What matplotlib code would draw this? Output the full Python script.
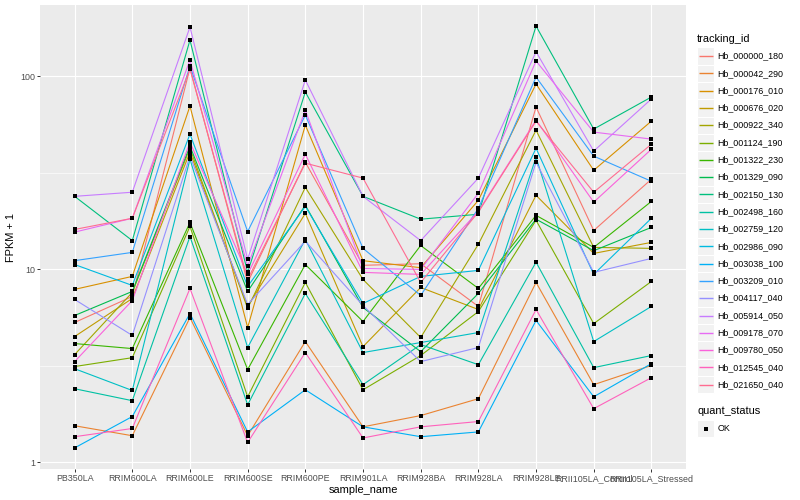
import matplotlib
matplotlib.use("Agg")
import matplotlib.pyplot as plt
from matplotlib.ticker import FixedLocator, NullFormatter
from matplotlib.patches import Rectangle
import numpy as np

plt.rcParams['font.family'] = ['Liberation Sans', 'DejaVu Sans']

samples = ["PB350LA", "RRIM600LA", "RRIM600LE", "RRIM600SE", "RRIM600PE",
           "RRIM901LA", "RRIM928BA", "RRIM928LA", "RRIM928LE",
           "RRII105LA_Control", "RRII105LA_Stressed"]

tracking_ids = ["Hb_000000_180", "Hb_000042_290", "Hb_000176_010", "Hb_000676_020",
                "Hb_000922_340", "Hb_001124_190", "Hb_001322_230", "Hb_001329_090",
                "Hb_002150_130", "Hb_002498_160", "Hb_002759_120", "Hb_002986_090",
                "Hb_003038_100", "Hb_003209_010", "Hb_004117_040", "Hb_005914_050",
                "Hb_009178_070", "Hb_009780_050", "Hb_012545_040", "Hb_021650_040"]

colors = ["#F8766D", "#EA8331", "#D89000", "#C09B00", "#A3A500", "#7CAE00",
          "#39B600", "#00BB4E", "#00BF7D", "#00C1A3", "#00BFC4", "#00BAE0",
          "#00B0F6", "#35A2FF", "#9590FF", "#C77CFF", "#E76BF3", "#FA62DB",
          "#FF62BC", "#FF6C91"]

# FPKM + 1 per sample (same order as samples)
hb_000000_180 = [5.31, 7.24, 110.4, 8.56, 35.9, 10.5, 10.7, 6.43, 69.3, 15.9, 29.3]
hb_000042_290 = [1.55, 1.376, 5.63, 1.376, 4.23, 1.53, 1.75, 2.14, 8.56, 2.53, 3.18]
hb_000176_010 = [7.88, 9.20, 70.1, 5.00, 55.9, 11.1, 10.2, 22.8, 91.2, 32.6, 58.6]
hb_000676_020 = [4.49, 7.07, 40.5, 6.43, 19.5, 3.98, 8.06, 6.20, 24.2, 12.1, 13.8]
hb_000922_340 = [3.62, 7.60, 42.4, 6.28, 26.6, 8.87, 4.44, 13.5, 52.6, 13.0, 12.85]
hb_001124_190 = [3.14, 3.49, 16.7, 2.19, 8.56, 2.38, 3.58, 6.05, 17.96, 5.24, 8.66]
hb_001322_230 = [4.13, 3.89, 17.5, 3.03, 10.6, 5.37, 13.3, 7.97, 19.05, 13.0, 22.5]
hb_001329_090 = [5.77, 7.69, 43.5, 7.69, 21.5, 6.35, 3.75, 7.51, 18.2, 12.5, 16.5]
hb_002150_130 = [23.9, 14.1, 154.0, 9.65, 82.9, 23.9, 18.2, 19.3, 182.0, 53.3, 78.1]
hb_002498_160 = [2.41, 2.09, 14.8, 1.99, 7.51, 2.53, 4.08, 3.21, 10.9, 3.10, 3.58]
hb_002759_120 = [3.06, 2.36, 37.2, 3.94, 14.3, 3.71, 4.18, 4.71, 38.1, 4.23, 6.43]
hb_002986_090 = [10.6, 8.26, 50.2, 8.16, 21.2, 6.66, 9.20, 9.88, 42.4, 9.42, 18.4]
hb_003038_100 = [1.19, 1.73, 5.91, 1.44, 2.38, 1.53, 1.36, 1.44, 5.44, 2.19, 3.25]
hb_003209_010 = [11.1, 12.25, 113.0, 15.7, 63.0, 12.85, 7.33, 20.7, 99.1, 38.6, 28.6]
hb_004117_040 = [6.99, 4.55, 38.6, 6.58, 14.0, 6.50, 3.33, 3.94, 35.9, 9.65, 11.4]
hb_005914_050 = [23.9, 25.1, 180.0, 11.3, 95.7, 23.9, 14.1, 29.7, 134.0, 41.0, 76.3]
hb_009178_070 = [15.6, 18.4, 121.5, 10.4, 66.8, 10.1, 10.0, 24.8, 120.0, 51.4, 47.3]
hb_009780_050 = [3.33, 6.90, 45.6, 9.42, 39.5, 9.65, 9.42, 20.0, 59.3, 22.3, 41.9]
hb_012545_040 = [1.36, 1.50, 7.97, 1.27, 3.71, 1.34, 1.53, 1.63, 6.20, 1.90, 2.75]
hb_021650_040 = [16.1, 18.4, 109.0, 8.87, 35.5, 29.7, 8.56, 19.8, 58.6, 25.1, 44.5]

series = [hb_000000_180, hb_000042_290, hb_000176_010, hb_000676_020, hb_000922_340,
          hb_001124_190, hb_001322_230, hb_001329_090, hb_002150_130, hb_002498_160,
          hb_002759_120, hb_002986_090, hb_003038_100, hb_003209_010, hb_004117_040,
          hb_005914_050, hb_009178_070, hb_009780_050, hb_012545_040, hb_021650_040]

W, H = 800, 500
fig = plt.figure(figsize=(8, 5), dpi=100)
fig.patch.set_facecolor("white")

pl, pr, pt, pb = 40, 686, 5, 469
ax = fig.add_axes([pl / W, 1 - pb / H, (pr - pl) / W, (pb - pt) / H])
ax.set_facecolor("#EBEBEB")
for s in ax.spines.values():
    s.set_visible(False)

x = np.arange(len(samples))
for vals, col in zip(series, colors):
    ax.plot(x, vals, color=col, lw=0.8, zorder=2, solid_capstyle="butt")
for vals in series:
    ax.plot(x, vals, ls="none", marker="s", ms=2.45, mfc="black", mec="black",
            mew=0, zorder=3)

ax.set_yscale("log")
allv = np.concatenate([np.asarray(v) for v in series])
lo, hi = np.log10(allv.min()), np.log10(allv.max())
pad = 0.05 * (hi - lo)
ax.set_ylim(10 ** (lo - pad), 10 ** (hi + pad))
ax.set_xlim(-0.6, len(samples) - 1 + 0.6)

ax.yaxis.set_major_locator(FixedLocator([1, 10, 100]))
ax.set_yticklabels(["1", "10", "100"])
ax.yaxis.set_minor_locator(FixedLocator([10 ** 0.5, 10 ** 1.5]))
ax.yaxis.set_minor_formatter(NullFormatter())
ax.set_xticks(x)
ax.set_xticklabels(samples)

ax.grid(which="major", color="white", lw=0.85, zorder=0)
ax.grid(which="minor", axis="y", color="white", lw=0.45, zorder=0)
ax.set_axisbelow(True)
ax.tick_params(axis="both", which="major", length=2.0, width=0.7, color="#333333",
               labelsize=6.4, labelcolor="#4D4D4D", pad=1.6)
ax.tick_params(axis="y", which="minor", length=0)

ax.set_xlabel("sample_name", fontsize=7.9, labelpad=1.5)
ax.set_ylabel("FPKM + 1", fontsize=7.9, labelpad=3)

# legend drawn in figure pixel space
lg = fig.add_axes([0, 0, 1, 1], facecolor="none")
lg.set_xlim(0, W)
lg.set_ylim(H, 0)
lg.axis("off")

kx, ks = 697, 17.3
lg.text(kx, 39, "tracking_id", fontsize=7.9, va="center", ha="left")
for i, (tid, col) in enumerate(zip(tracking_ids, colors)):
    yc = 56 + i * ks
    lg.add_patch(Rectangle((kx, yc - ks / 2), ks, ks, facecolor="#F2F2F2",
                           edgecolor="white", lw=0.8, zorder=1))
    lg.plot([kx + 1.7, kx + ks - 1.7], [yc, yc], color=col, lw=1.0, zorder=3,
            solid_capstyle="butt")
    lg.text(kx + ks + 3, yc, tid, fontsize=6.4, va="center", ha="left")

lg.text(kx, 411.5, "quant_status", fontsize=7.9, va="center", ha="left")
yc = 428.5
lg.add_patch(Rectangle((kx, yc - ks / 2), ks, ks, facecolor="#F2F2F2",
                       edgecolor="white", lw=0.8, zorder=1))
lg.plot([kx + ks / 2], [yc], marker="s", ms=2.45, color="black", mew=0, zorder=3)
lg.text(kx + ks + 3, yc, "OK", fontsize=6.4, va="center", ha="left")

fig.savefig("out.png", dpi=100)
